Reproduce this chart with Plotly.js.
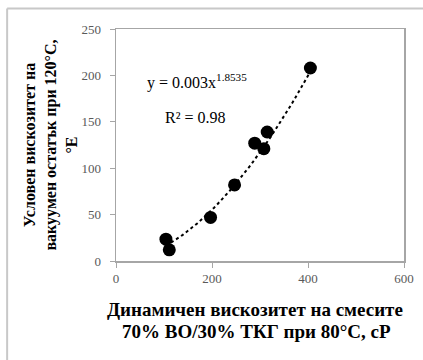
<!DOCTYPE html>
<html>
<head>
<meta charset="utf-8">
<script src="https://cdn.plot.ly/plotly-3.0.1.min.js"></script>
<style>html,body{margin:0;padding:0;background:#fff;}#chart{width:423px;height:360px;}</style>
</head>
<body>
<div id="chart"></div>
<script>
// Data
var viscosityMix = [104, 111, 197, 247, 289, 308, 315, 405];   // cP
var viscosityRes = [23.5, 12, 47, 82, 127, 121, 139, 208];     // °E
// Power trendline reported on the chart: y = a * x^b
var trendA = 0.003;
var trendB = 1.8535;
var trendLabel = 'y = 0.003x<sup>1.8535</sup>';
var r2Label = 'R² = 0.98';
var xTicks = [0, 200, 400, 600];
var yTicks = [0, 50, 100, 150, 200, 250];
var xTitleLines = ['Динамичен вискозитет на смесите', '70% ВО/30% ТКГ при 80°C, cP'];
var yTitle = 'Условен вискозитет на<br>вакуумен остатък при 120°C,<br>°E';

var xMin = Math.min.apply(null, viscosityMix), xMax = Math.max.apply(null, viscosityMix);
var trendX = [], trendY = [];
for (var i = 0; i <= 60; i++) {
  var x = xMin + (xMax - xMin) * i / 60;
  trendX.push(x);
  trendY.push(trendA * Math.pow(x, trendB));
}

var font = 'Liberation Serif, Times New Roman, serif';

var traces = [
  {x: trendX, y: trendY, mode: 'lines', line: {color: '#000', width: 2, dash: 'dot'}, hoverinfo: 'skip'},
  {x: viscosityMix, y: viscosityRes, mode: 'markers', marker: {color: '#000', size: 13}}
];

var layout = {
  width: 423, height: 360,
  margin: {l: 116, r: 19, t: 29, b: 99},
  paper_bgcolor: '#fff', plot_bgcolor: '#fff',
  showlegend: false,
  font: {family: font, color: '#595959', size: 13},
  xaxis: {
    range: [0, 600], tickvals: xTicks, showgrid: false, zeroline: false,
    showline: true, linecolor: '#a6a6a6', linewidth: 1.5, mirror: true,
    ticks: 'outside', ticklen: 5, tickcolor: '#a6a6a6',
    tickfont: {family: font, size: 13, color: '#595959'}
  },
  yaxis: {
    range: [0, 250], tickvals: yTicks, showgrid: false, zeroline: false,
    showline: true, linecolor: '#a6a6a6', linewidth: 1.5, mirror: true,
    ticks: 'outside', ticklen: 5, tickcolor: '#a6a6a6', ticklabelstandoff: 6,
    tickfont: {family: font, size: 13, color: '#595959'},
    title: {text: yTitle, font: {family: font, size: 16, color: '#000', weight: 'bold'}, standoff: 0}
  },
  annotations: [
    {x: 60, y: 193, xref: 'x', yref: 'y', text: trendLabel, showarrow: false, xanchor: 'left', yanchor: 'middle',
     font: {family: font, size: 16, color: '#000'}},
    {x: 98, y: 155, xref: 'x', yref: 'y', text: r2Label, showarrow: false, xanchor: 'left', yanchor: 'middle',
     font: {family: font, size: 16, color: '#000'}},
    {x: 0.484, y: -0.211, xref: 'paper', yref: 'paper', text: '<b>' + xTitleLines[0] + '</b>', showarrow: false,
     xanchor: 'center', yanchor: 'middle', font: {family: font, size: 19, color: '#000'}},
    {x: 0.487, y: -0.306, xref: 'paper', yref: 'paper', text: '<b>' + xTitleLines[1] + '</b>', showarrow: false,
     xanchor: 'center', yanchor: 'middle', font: {family: font, size: 19, color: '#000'}}
  ],
  shapes: [
    {type: 'line', xref: 'paper', yref: 'paper', x0: -0.378, x1: 1.2, y0: 1.088, y1: 1.088, line: {color: '#c8c8c8', width: 2}},
    {type: 'line', xref: 'paper', yref: 'paper', x0: -0.378, x1: -0.378, y0: 1.088, y1: -0.5, line: {color: '#c8c8c8', width: 2}}
  ]
};

Plotly.newPlot('chart', traces, layout, {displayModeBar: false, staticPlot: true});
</script>
</body>
</html>
